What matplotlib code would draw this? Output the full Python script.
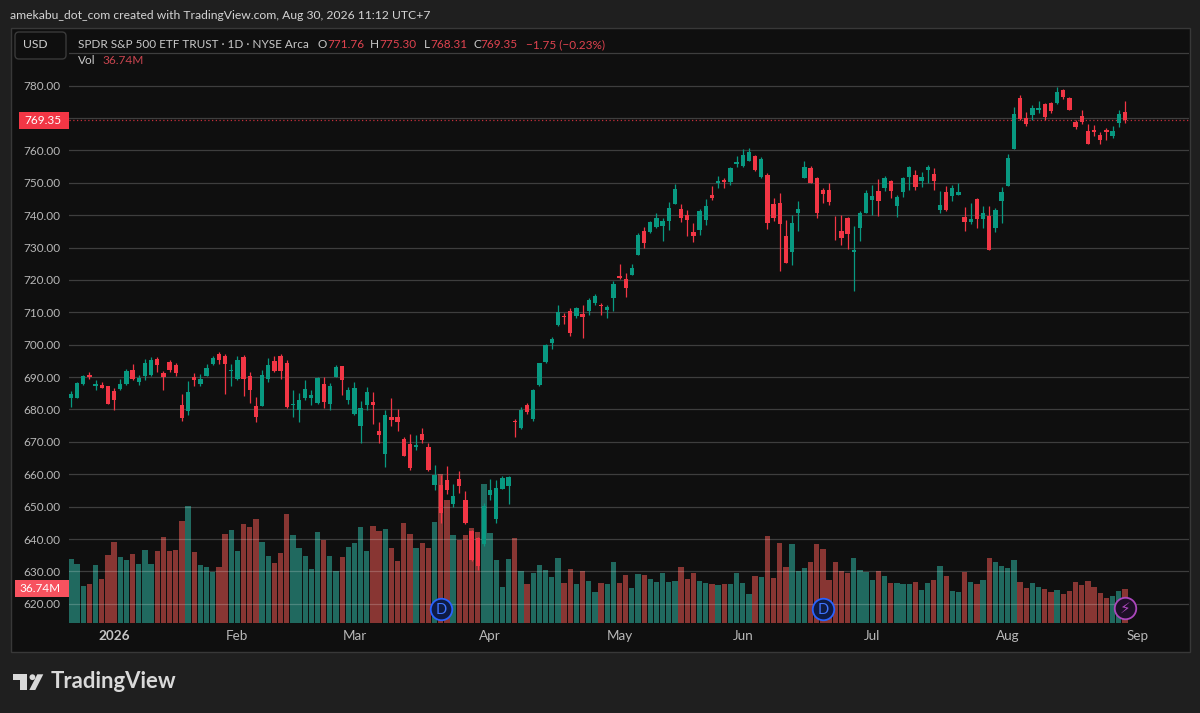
import matplotlib
matplotlib.use('Agg')
import numpy as np
import matplotlib.pyplot as plt
from matplotlib.patches import Rectangle, FancyBboxPatch, Polygon, Circle

plt.rcParams['font.family'] = ['Lato', 'DejaVu Sans']

# Daily candles, oldest first
opens = [683.7,683.7,687.9,690.7,687.4,687.7,687.3,685.8,686.3,687.9,
         692.1,688.6,690.4,690.6,695.7,691.2,694.8,693.7,681.5,679.6,
         689.9,688.0,690.4,693.9,697.2,696.5,691.9,689.4,696.2,690.4,
         681.0,681.2,689.4,694.9,696.5,694.4,681.5,679.9,683.6,683.5,
         682.0,688.0,681.8,690.1,693.3,683.0,678.5,675.0,681.5,682.3,
         673.4,666.2,677.7,677.7,671.0,669.3,668.3,672.3,668.3,656.7,
         656.6,658.1,650.9,658.6,652.1,642.4,640.2,638.6,653.5,646.2,
         655.6,656.3,676.4,674.4,681.5,677.0,687.6,694.8,700.6,706.0,
         708.9,710.3,708.8,709.4,710.5,712.9,712.1,710.7,714.4,721.2,
         720.3,721.5,727.8,735.1,734.8,736.2,736.6,738.2,743.5,741.8,
         739.9,734.9,735.4,738.5,746.3,749.9,750.8,750.2,755.8,755.3,
         756.8,758.3,751.9,752.4,743.3,743.8,733.4,728.7,740.6,751.5,
         754.6,751.3,747.8,747.6,733.7,735.1,739.0,728.7,736.0,740.8,
         744.8,747.3,748.5,750.4,742.9,747.0,751.7,752.4,750.5,753.8,
         752.8,741.7,747.0,745.9,746.2,739.4,737.9,745.0,738.9,739.8,
         735.9,744.5,749.0,760.5,776.0,770.0,770.8,772.4,774.4,774.7,
         774.6,778.6,776.2,768.8,770.5,766.1,766.2,764.8,766.2,764.5,768.5,771.76]
highs = [685.6,688.4,690.8,691.6,689.2,688.5,687.3,686.6,689.5,692.5,
         694.0,690.5,695.6,696.2,696.2,691.8,695.2,694.3,684.8,688.9,
         691.3,691.0,694.1,696.6,697.8,697.0,694.1,696.6,696.8,691.5,
         683.8,692.3,695.9,696.6,697.0,695.2,686.1,685.1,689.0,686.1,
         690.0,690.0,688.2,693.7,693.5,686.9,688.5,682.5,686.9,685.4,
         676.1,679.7,683.5,680.1,671.4,672.3,672.2,674.3,669.8,662.8,
         659.9,662.6,657.1,660.9,654.9,642.7,640.5,651.1,658.5,658.1,
         659.5,659.5,677.0,680.9,682.0,686.3,694.5,700.3,702.5,712.3,
         709.7,711.2,711.7,712.3,714.3,715.7,712.8,712.2,719.8,724.9,
         722.2,724.9,734.6,736.2,738.3,740.8,739.0,744.1,749.6,743.4,
         741.6,737.7,741.8,744.9,749.0,752.1,751.4,755.0,758.3,760.3,
         760.6,758.7,758.0,752.9,745.2,746.9,738.5,740.0,744.5,756.7,
         755.3,751.9,748.4,750.0,739.7,739.9,739.4,736.5,741.3,747.8,
         749.2,751.2,752.2,750.7,746.1,751.7,755.3,753.8,753.3,755.5,
         754.5,747.3,748.9,749.2,750.0,742.5,743.7,745.4,742.7,742.7,
         742.3,748.7,759.0,773.4,777.0,771.9,773.9,775.2,774.7,774.9,
         779.6,778.8,776.5,769.5,772.4,768.0,767.7,765.7,766.9,767.4,772.4,775.30]
lows = [680.7,683.6,687.7,689.4,686.1,686.5,681.8,679.9,686.1,687.7,
        689.2,687.6,689.2,690.4,691.5,686.1,691.5,690.2,676.6,678.2,
        687.1,687.3,690.2,693.7,693.9,684.9,687.1,689.2,684.1,682.0,
        676.0,681.0,688.4,691.7,689.4,680.6,677.7,676.0,683.0,681.5,
        681.8,680.6,679.9,689.9,684.6,681.8,678.3,669.8,679.9,675.6,
        669.8,662.4,675.0,673.4,665.6,661.4,667.4,669.8,661.1,655.0,
        645.0,654.0,649.8,654.2,644.7,633.1,630.5,637.9,652.0,645.1,
        655.4,650.9,671.5,674.0,678.5,676.5,687.4,694.3,698.6,705.8,
        706.3,702.8,708.2,702.2,709.1,712.3,709.3,708.3,710.5,720.4,
        714.8,721.4,727.7,730.0,734.6,736.1,731.9,735.4,743.3,738.0,
        733.4,731.7,733.9,737.0,744.7,748.5,748.5,749.4,754.8,754.8,
        756.6,753.7,751.6,735.7,738.3,722.6,725.3,724.6,735.2,751.3,
        749.9,739.1,743.7,743.2,732.2,730.7,729.5,716.6,732.0,740.8,
        739.9,739.8,747.3,745.3,739.4,745.6,747.9,747.9,748.7,750.0,
        747.6,740.6,741.3,744.2,746.2,735.1,737.3,736.0,736.0,729.1,
        734.7,737.6,748.9,760.4,769.5,767.5,769.5,771.5,769.3,771.5,
        774.2,775.7,772.4,766.7,768.0,762.0,764.3,761.9,763.1,763.9,767.2,768.31]
closes = [684.9,688.1,690.4,690.0,687.9,686.7,681.8,683.0,687.9,692.0,
          689.3,689.7,694.2,695.2,693.7,690.1,692.1,691.4,677.5,685.5,
          689.0,689.3,692.9,695.8,695.2,693.9,692.3,695.4,689.4,686.1,
          677.6,690.5,693.8,691.9,692.0,680.8,681.8,683.0,686.3,684.6,
          689.6,682.2,687.3,693.2,689.2,686.1,686.5,680.4,685.3,681.3,
          672.0,678.4,676.8,676.1,665.7,661.8,669.0,670.5,661.2,659.9,
          648.0,655.0,653.4,656.5,645.0,633.6,631.8,650.3,655.2,655.7,
          658.9,659.1,676.0,679.9,679.2,686.1,694.3,700.0,701.8,710.0,
          708.7,703.7,711.3,708.4,713.8,715.0,712.0,711.5,718.7,720.5,
          717.6,723.8,733.9,731.4,737.8,739.2,738.2,742.2,748.1,739.0,
          738.5,733.4,741.3,742.8,745.2,750.6,750.2,754.5,756.4,758.5,
          759.5,753.9,757.2,737.7,739.0,737.1,725.3,737.7,741.8,754.8,
          749.9,740.6,746.4,744.0,733.4,733.0,734.1,729.1,740.8,746.8,
          745.8,744.4,751.3,747.4,745.6,751.5,754.8,748.7,751.7,754.8,
          750.5,743.2,741.5,748.4,747.2,737.8,738.9,738.9,740.8,729.1,
          741.7,747.0,757.6,771.3,769.6,768.2,773.2,773.2,770.3,772.2,
          777.9,776.3,772.4,767.2,768.8,762.1,765.6,763.1,765.8,766.1,771.1,769.35]
# Volume in millions of shares
volumes = [68.5,63.5,39.3,41.4,61.8,46.8,73.1,86.8,70.4,67.8,
           73.9,63.5,78.2,63.5,76.8,92.4,76.8,77.9,108.9,125.0,
           75.7,62.4,59.7,54.3,59.7,95.0,99.3,77.4,105.7,103.1,
           111.1,86.8,72.1,64.3,75.0,116.4,93.9,80.0,72.1,57.8,
           97.5,88.6,72.1,55.4,70.4,81.7,85.4,102.8,77.4,103.6,
           98.5,100.4,80.0,66.7,106.6,95.3,80.3,85.7,80.3,108.2,
           159.3,131.7,94.2,88.9,94.2,101.2,96.9,148.9,96.0,67.0,
           38.6,68.5,91.4,56.0,42.1,53.9,62.4,56.8,48.9,69.3,
           42.8,58.2,42.1,55.4,44.7,33.2,42.8,41.4,65.7,43.2,
           51.1,37.2,52.5,51.1,46.8,43.9,53.9,43.9,44.7,59.7,
           47.4,53.9,45.3,42.8,41.4,40.4,42.1,41.4,53.9,42.8,
           31.4,50.7,49.3,92.9,48.2,86.0,59.7,84.3,56.0,58.9,
           65.7,84.3,78.9,45.7,65.7,56.0,53.9,69.3,57.1,54.3,
           46.4,56.0,50.0,43.2,43.2,41.4,42.1,43.9,35.0,43.2,
           45.7,61.4,50.0,34.0,32.9,54.3,43.9,41.4,46.4,69.3,
           65.7,61.4,58.6,67.8,43.9,37.8,42.8,38.6,36.7,33.2,
           35.0,31.4,34.3,43.9,40.4,44.7,38.6,32.5,27.1,29.2,34.3,36.74]

# Axis labels: candle index of each month start
month_pos = [7, 27, 46, 68, 89, 109, 130, 152, 173]
month_labels = ['2026', 'Feb', 'Mar', 'Apr', 'May', 'Jun', 'Jul', 'Aug', 'Sep']
price_ticks = list(range(620, 800, 10))
hidden_ticks = [770, 790]
dividend_idx = [60, 122]
earnings_idx = [171]
last_price = 769.35
last_volume = 36.74

UP = '#089981'
DOWN = '#f23645'
PANEL = '#0f0f0f'
TEXT = '#b8b8b8'

W, H = 1200, 713
fig = plt.figure(figsize=(W / 100, H / 100), dpi=100, facecolor='#1f1f1f')

# Full-figure overlay in pixel units for the frame and header
bg = fig.add_axes([0, 0, 1, 1])
bg.set_xlim(0, W)
bg.set_ylim(H, 0)
bg.axis('off')
bg.add_patch(Rectangle((11, 28), 1179, 624, fc=PANEL, ec='#383838', lw=1))

left, right, top, bottom = 69, 1189, 28, 623
rect = [left / W, 1 - bottom / H, (right - left) / W, (bottom - top) / H]
ax_vol = fig.add_axes(rect)
ax_vol.patch.set_visible(False)
ax = ax_vol.twinx()
ax.patch.set_visible(False)

x = np.arange(len(closes))
o, h, l, c = map(np.array, (opens, highs, lows, closes))
up = c >= o
colors = np.where(up, UP, DOWN)

# Volume sits behind the candles
vol_colors = np.where(up, '#20695f', '#883633')
ax_vol.bar(x, volumes, width=0.86, color=vol_colors)
ax_vol.set_ylim(0, 637)
ax_vol.set_yticks([])

ax.vlines(x, l, h, colors=colors, lw=0.9, zorder=3)
ax.bar(x, np.abs(c - o).clip(0.25), bottom=np.minimum(o, c), width=0.7, color=colors, zorder=4)
ax.axhline(last_price, color=DOWN, lw=0.9, ls=(0, (1, 2)), alpha=0.8, zorder=2)

ax.set_xlim(-0.32, 181.4)
ax.set_ylim(614.1, 797.75)
ax.yaxis.tick_left()
ax.set_yticks(price_ticks)
ax.set_yticklabels(['' if t in hidden_ticks else f'{t}.00' for t in price_ticks])
ax.set_xticks(month_pos)
ax.set_xticklabels(month_labels)
ax_vol.set_xticks(month_pos)
ax_vol.set_xticklabels([])
ax_vol.tick_params(length=0)
ax.tick_params(axis='y', length=0, pad=6, labelsize=8.5, labelcolor=TEXT)
ax.tick_params(axis='x', length=0, labelsize=9, labelcolor=TEXT, bottom=False, labelbottom=False)
ax.grid(True, color='white', alpha=0.2, lw=0.9)
ax.set_axisbelow(True)
for a in (ax, ax_vol):
    for s in a.spines.values():
        s.set_visible(False)

# Month labels
for pos, lab in zip(month_pos, month_labels):
    px = left + (pos + 0.32) / 181.72 * (right - left)
    bg.text(px, 636.5, lab, ha='center', va='center', fontsize=9.7, color='#c4c4c4' if lab == '2026' else TEXT,
            fontweight='bold' if lab == '2026' else 'normal')

# Dividend and earnings badges
for idx in dividend_idx:
    ax.plot(idx, 618.3, 'o', ms=15.5, mfc='#0e1b45', mec='#2962ff', mew=1.3, zorder=6)
    ax.text(idx, 618.2, 'D', color='#3f74ff', fontsize=10.5, ha='center', va='center', zorder=7)
for idx in earnings_idx:
    ax.plot(idx, 618.7, 'o', ms=15.5, mfc='#1d0f26', mec='#ab47bc', mew=1.3, zorder=6)
    ax.text(idx, 618.6, '\u26a1', color='#ab47bc', fontsize=11, ha='center', va='center', zorder=7,
            family=['DejaVu Sans'])

# Price scale tags
bg.add_patch(Rectangle((19, 112), 50, 16.5, fc=DOWN, ec='none', zorder=8))
bg.text(61, 120, f'{last_price:.2f}', ha='right', va='center', color='white', fontsize=8.5, zorder=9)
bg.add_patch(Rectangle((15, 580), 54, 17, fc='#f7525f', ec='none', zorder=8))
bg.text(61, 588.5, f'{last_volume:.2f}M', ha='right', va='center', color='white', fontsize=8.5, zorder=9)

# USD box and legend
bg.add_patch(FancyBboxPatch((17, 34), 47, 23, boxstyle='round,pad=2,rounding_size=4', fc=PANEL, ec='#3a3a3a', lw=1,
                            zorder=8))
bg.text(35, 44.5, 'USD', ha='center', va='center', color='#d0d0d0', fontsize=8.7, zorder=9)
LEG = '#c9c9c9'
bg.text(78, 44.5, 'SPDR S&P 500 ETF TRUST \u00b7 1D \u00b7 NYSE Arca', va='center', color=LEG, fontsize=8.5, zorder=9)
ohlc_parts = [(318, 'O', '771.76'), (370, 'H', '775.30'), (424, 'L', '768.31'), (473, 'C', '769.35')]
for px, key, val in ohlc_parts:
    t = bg.text(px, 44.5, key, va='center', color=LEG, fontsize=8.5, zorder=9)
    bg.annotate(val, xy=(1, 0.5), xycoords=t, va='center', color='#e0434f', fontsize=8.5, zorder=9)
bg.text(526, 44.5, '\u22121.75 (\u22120.23%)', va='center', color='#e0434f', fontsize=8.5, zorder=9)
bg.text(78, 61, 'Vol', va='center', color=LEG, fontsize=8.5, zorder=9)
bg.text(102, 61, '36.74M', va='center', color='#c9454f', fontsize=8.6, zorder=9)

# Header line above the panel
bg.text(10, 15.5, 'amekabu_dot_com created with TradingView.com, Aug 30, 2026 11:12 UTC+7', va='center',
        color='#d4d4d4', fontsize=8.75)

# TradingView logo
LOGO = '#d9d9d9'
bg.add_patch(Polygon([(12.7, 674.3), (27.3, 674.3), (27.3, 690), (19.5, 690), (19.5, 680), (12.7, 680)], fc=LOGO, ec='none'))
bg.add_patch(Circle((32.4, 677.2), 2.9, fc=LOGO, ec='none'))
bg.add_patch(Polygon([(37.3, 674.3), (43.3, 674.3), (35.3, 690), (29.3, 690)], fc=LOGO, ec='none'))
bg.text(50.5, 682, 'TradingView', va='center', color=LOGO, fontsize=15.9, fontweight='bold')

fig.savefig('out.png', dpi=100, facecolor=fig.get_facecolor())
